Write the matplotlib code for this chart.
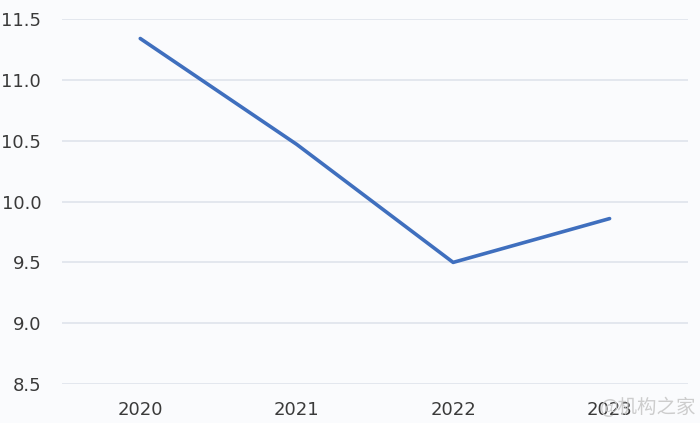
import matplotlib.pyplot as plt

years = ['2020', '2021', '2022', '2023']
values = [11.34, 10.47, 9.50, 9.86]
yticks = [8.5, 9.0, 9.5, 10.0, 10.5, 11.0, 11.5]

plt.rcParams['font.family'] = ['DejaVu Sans', 'Noto Sans CJK SC']

bg = '#fafbfd'
fig = plt.figure(figsize=(7, 4.23), dpi=100, facecolor=bg)
ax = fig.add_axes([0.0886, 0.092, 0.894, 0.863], facecolor=bg)

x = range(len(years))
ax.plot(x, values, color='#3f6fbe', lw=2.6, solid_capstyle='round', zorder=3)

ax.set_xlim(-0.5, 3.5)
ax.set_ylim(8.5, 11.5)
ax.set_yticks(yticks)
ax.set_yticklabels([f'{v:.1f}' for v in yticks])
ax.set_xticks(list(x))
ax.set_xticklabels(years)
ax.grid(axis='y', color='#dde1ea', lw=1.1)
ax.set_axisbelow(True)
for s in ax.spines.values():
    s.set_visible(False)
ax.tick_params(length=0, labelsize=13, colors='#3a3a3a')
ax.tick_params(axis='y', pad=15)
ax.tick_params(axis='x', pad=12)

fig.text(0.995, 0.012, '@机构之家', ha='right', va='bottom', fontsize=14,
         color='#c8c8c8', alpha=0.9, family=['Noto Sans CJK SC', 'DejaVu Sans'])

fig.savefig('out.png', dpi=100, facecolor=bg)
